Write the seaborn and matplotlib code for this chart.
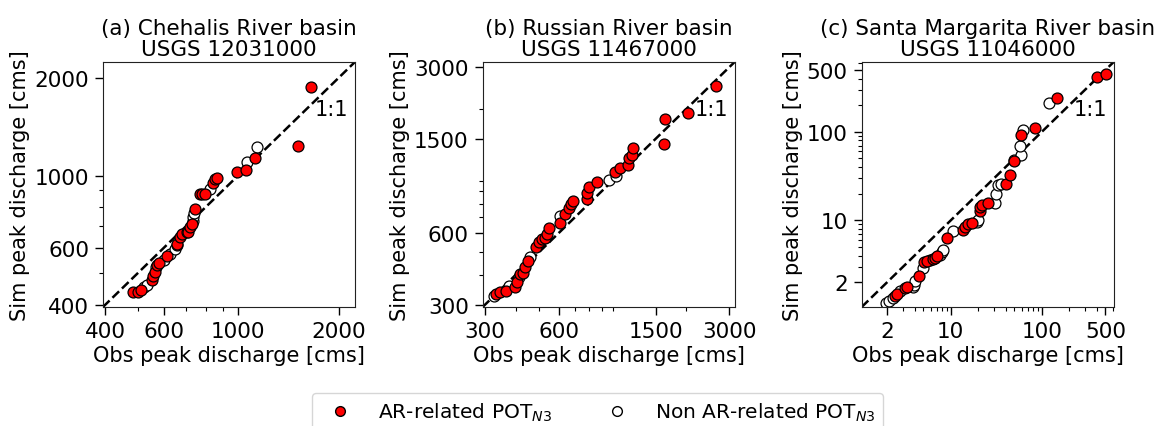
import numpy as np
import pandas as pd
import matplotlib
matplotlib.use("Agg")
import matplotlib.pyplot as plt
import seaborn as sns
from matplotlib.ticker import FixedLocator, FuncFormatter, LogLocator, NullFormatter
from matplotlib.lines import Line2D

# ---------------- data ----------------
titles = ["(a) Chehalis River basin\nUSGS 12031000",
          "(b) Russian River basin\nUSGS 11467000",
          "(c) Santa Margarita River basin\nUSGS 11046000"]

# Chehalis
obs_a = [486, 500, 511, 523, 533, 551, 558, 562, 568, 571, 581, 598, 612, 626, 648, 655, 658,
         670, 678, 702, 710, 718, 726, 731, 735, 738, 743, 769, 778, 796, 824, 839, 853, 866,
         994, 1055, 1060, 1123, 1136, 1506, 1647]
sim_a = [437, 439, 444, 453, 460, 477, 490, 504, 524, 530, 538, 549, 564, 572, 596, 610, 617,
         646, 659, 668, 670, 693, 710, 727, 744, 765, 789, 877, 880, 880, 908, 951, 974, 986,
         1026, 1040, 1100, 1134, 1228, 1231, 1868]
ar_a = [1, 1, 1, 0, 0, 1, 1, 1, 0, 1, 1, 0, 1, 0, 0, 1, 1,
        1, 1, 1, 1, 1, 1, 0, 0, 0, 1, 1, 1, 1, 0, 1, 1, 1,
        1, 1, 0, 1, 0, 1, 1]

# Russian
obs_b = [325, 333, 346, 366, 377, 398, 404, 411, 417, 428, 437, 451, 459, 485, 501, 512, 529,
         537, 549, 609, 609, 638, 659, 673, 686, 783, 788, 796, 861, 961, 1033, 1023, 1073,
         1160, 1171, 1197, 1209, 1615, 1640, 2044, 2653]
sim_b = [325, 333, 339, 342, 358, 356, 373, 392, 402, 407, 431, 460, 478, 523, 548, 566, 572,
         594, 633, 665, 709, 720, 768, 793, 819, 832, 887, 937, 983, 1008, 1041, 1085, 1128,
         1165, 1242, 1282, 1376, 1426, 1825, 1934, 2491]
ar_b = [0, 1, 1, 1, 0, 1, 1, 0, 1, 1, 1, 1, 0, 1, 1, 1, 1,
        1, 1, 1, 0, 1, 1, 1, 1, 1, 1, 1, 1, 0, 0, 1, 1,
        1, 1, 1, 1, 1, 1, 1, 1]

# Santa Margarita
obs_c = [1.92, 2.09, 2.33, 2.47, 2.57, 2.80, 3.17, 3.30, 3.84, 3.91, 4.07, 4.43, 4.94, 5.11,
         5.46, 5.94, 6.35, 6.73, 7.13, 7.63, 7.96, 8.16, 9.17, 10.5, 13.7, 14.3, 15.5, 16.9,
         19.5, 20.0, 20.8, 21.2, 22.3, 25.7, 30.3, 31.6, 33.0, 35.9, 40.7, 44.9, 48.9, 50.1,
         59.3, 57.8, 59.3, 61.8, 84.9, 121, 146, 406, 509]
sim_c = [1.17, 1.22, 1.33, 1.39, 1.48, 1.58, 1.70, 1.76, 1.76, 1.85, 2.05, 2.38, 2.90, 3.36,
         3.45, 3.60, 3.70, 3.76, 3.93, 4.10, 4.40, 4.67, 6.32, 7.65, 7.85, 8.34, 9.10, 9.34,
         9.58, 10.2, 12.6, 14.0, 15.0, 15.7, 15.7, 19.8, 25.3, 25.7, 25.7, 32.2, 46.3, 47.5,
         54.1, 68.4, 92.6, 105, 110, 211, 240, 421, 447]
ar_c = [0, 0, 0, 1, 1, 0, 1, 1, 0, 0, 0, 1, 0, 1,
        1, 0, 1, 1, 1, 0, 0, 0, 1, 0, 1, 1, 1, 1,
        0, 0, 1, 1, 1, 1, 0, 0, 0, 0, 1, 1, 1, 0,
        0, 0, 1, 0, 1, 0, 1, 1, 1]

major_ticks = [[400, 600, 1000, 2000], [300, 600, 1500, 3000], [2, 10, 100, 500]]
limits = [(394, 2235), (293, 3160), (1.05, 615)]

legend_labels = ["AR-related POT$_{N3}$", "Non AR-related POT$_{N3}$"]

# ---------------- plot ----------------
sns.set_style("ticks")
plt.rcParams["font.family"] = ["DejaVu Sans"]
plt.rcParams.update({"text.color": "black", "axes.labelcolor": "black",
                     "xtick.color": "black", "ytick.color": "black"})

fig = plt.figure(figsize=(11.58, 4.27), dpi=100)
lefts = [0.0889, 0.4168, 0.7441]
datasets = [(obs_a, sim_a, ar_a), (obs_b, sim_b, ar_b), (obs_c, sim_c, ar_c)]

for i, (obs, sim, ar) in enumerate(datasets):
    ax = fig.add_axes([lefts[i], 0.2787, 0.2176, 0.5738])
    df = pd.DataFrame({"obs": obs, "sim": sim, "ar": ar})
    lo, hi = limits[i]
    ax.plot([lo, hi], [lo, hi], color="black", ls="--", lw=1.8, zorder=1)
    sns.scatterplot(data=df[df.ar == 0], x="obs", y="sim", color="white", edgecolor="black",
                    linewidth=0.9, s=62, ax=ax, zorder=2, legend=False)
    sns.scatterplot(data=df[df.ar == 1], x="obs", y="sim", color="red", edgecolor="black",
                    linewidth=0.9, s=62, ax=ax, zorder=3, legend=False)
    ax.set_xscale("log")
    ax.set_yscale("log")
    ax.set_xlim(lo, hi)
    ax.set_ylim(lo, hi)
    for axis in (ax.xaxis, ax.yaxis):
        axis.set_major_locator(FixedLocator(major_ticks[i]))
        axis.set_major_formatter(FuncFormatter(lambda v, p: "%g" % v))
        axis.set_minor_locator(LogLocator(base=10, subs=np.arange(1, 10)))
        axis.set_minor_formatter(NullFormatter())
    ax.tick_params(axis="both", which="major", labelsize=15.5, length=6, width=1, pad=4)
    ax.tick_params(axis="both", which="minor", length=3, width=0.8)
    ax.set_xlabel("Obs peak discharge [cms]", fontsize=15, labelpad=3)
    ax.set_ylabel("Sim peak discharge [cms]", fontsize=15, labelpad=3)
    ax.set_title(titles[i], fontsize=15.5, linespacing=1.05, pad=5)
    ax.text(0.84, 0.81, "1:1", transform=ax.transAxes, fontsize=15, va="center", ha="left")
    for sp in ax.spines.values():
        sp.set_color("#222222")

handles = [Line2D([], [], ls="", marker="o", markerfacecolor="red", markeredgecolor="black",
                  markersize=7),
           Line2D([], [], ls="", marker="o", markerfacecolor="white", markeredgecolor="black",
                  markersize=7)]
fig.legend(handles, legend_labels, loc="upper center", bbox_to_anchor=(0.516, 0.102),
           ncol=2, fontsize=14.5, columnspacing=2.2, handletextpad=0.9, frameon=True)

fig.savefig("out.png", dpi=100)
